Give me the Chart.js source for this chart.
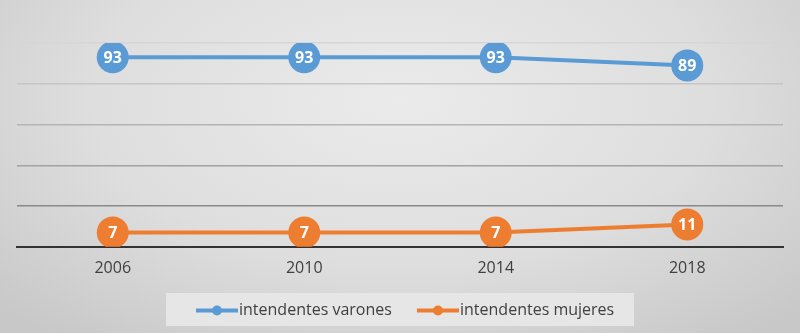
<!DOCTYPE html>
<html>
<head>
<meta charset="utf-8">
<script src="https://cdn.jsdelivr.net/npm/chart.js@4"></script>
<style>
  html, body { margin: 0; padding: 0; }
  body {
    width: 800px; height: 333px; overflow: hidden;
    background: radial-gradient(ellipse 70% 90% at 50% 30%, #ebebeb 0%, #dedede 55%, #c8c8c8 100%);
  }
  #wrap { position: relative; width: 800px; height: 333px; }
</style>
</head>
<body>
<div id="wrap"><canvas id="chart-0"></canvas></div>
<script>
var years = ['2006', '2010', '2014', '2018'];
var varones = [93, 93, 93, 89];
var mujeres = [7, 7, 7, 11];
var seriesNames = ['intendentes varones', 'intendentes mujeres'];
var seriesColors = ['#5b9bd5', '#ed7d31'];

var gridColors = { 0: '#3a3a3a', 20: '#8a8a8a', 40: '#a2a2a2', 60: '#b4b4b4', 80: '#c6c6c6', 100: '#d6d6d6' };

// white numbers in the markers
var valueLabels = {
    id: 'valueLabels',
    afterDatasetsDraw: function (chart) {
        var ctx = chart.ctx;
        ctx.save();
        ctx.fillStyle = '#ffffff';
        ctx.font = 'bold 16px "Open Sans", "DejaVu Sans", sans-serif';
        ctx.textAlign = 'center';
        ctx.textBaseline = 'middle';
        chart.data.datasets.forEach(function (ds, i) {
            chart.getDatasetMeta(i).data.forEach(function (pt, j) {
                ctx.fillText(ds.data[j], pt.x, pt.y + 1);
            });
        });
        ctx.restore();
    }
};

// legend box with line + dot markers
var boxLegend = {
    id: 'boxLegend',
    afterDraw: function (chart) {
        var ctx = chart.ctx;
        var x0 = 166, y0 = 293, w = 468, h = 33;
        ctx.save();
        ctx.fillStyle = '#e6e6e6';
        ctx.fillRect(x0, y0, w, h);
        ctx.font = '16px "Open Sans", "DejaVu Sans", sans-serif';
        ctx.textBaseline = 'middle';
        var cy = y0 + h / 2 + 1;
        var starts = [196, 417];
        chart.data.datasets.forEach(function (ds, i) {
            var sx = starts[i];
            ctx.strokeStyle = ds.borderColor;
            ctx.lineWidth = 4;
            ctx.beginPath();
            ctx.moveTo(sx, cy);
            ctx.lineTo(sx + 42, cy);
            ctx.stroke();
            ctx.fillStyle = ds.borderColor;
            ctx.beginPath();
            ctx.arc(sx + 21, cy, 5, 0, Math.PI * 2);
            ctx.fill();
            ctx.fillStyle = '#404040';
            ctx.fillText(ds.label, sx + 43, cy);
        });
        ctx.restore();
    }
};

new Chart('chart-0', {
    type: 'line',
    data: {
        labels: years,
        datasets: [{
            label: seriesNames[0],
            data: varones,
            borderColor: seriesColors[0],
            backgroundColor: seriesColors[0],
            borderWidth: 4,
            pointRadius: 16,
            pointHoverRadius: 16,
            pointBorderWidth: 0,
            tension: 0
        }, {
            label: seriesNames[1],
            data: mujeres,
            borderColor: seriesColors[1],
            backgroundColor: seriesColors[1],
            borderWidth: 4,
            pointRadius: 16,
            pointHoverRadius: 16,
            pointBorderWidth: 0,
            tension: 0
        }]
    },
    options: {
        responsive: true,
        maintainAspectRatio: false,
        animation: false,
        layout: { padding: { left: 17, right: 17, top: 43, bottom: 43 } },
        plugins: {
            legend: { display: false },
            tooltip: { enabled: false }
        },
        scales: {
            x: {
                offset: true,
                grid: { display: false, drawTicks: false },
                border: { color: '#333333', width: 2 },
                ticks: {
                    color: '#404040',
                    padding: 12,
                    font: { size: 16, family: '"Open Sans", "DejaVu Sans", sans-serif' }
                }
            },
            y: {
                min: 0,
                max: 100,
                ticks: { display: false, stepSize: 20 },
                border: { display: false },
                grid: {
                    drawTicks: false,
                    lineWidth: 1.5,
                    color: function (c) { return gridColors[c.tick.value] || '#c0c0c0'; }
                }
            }
        }
    },
    plugins: [valueLabels, boxLegend]
});
</script>
</body>
</html>
